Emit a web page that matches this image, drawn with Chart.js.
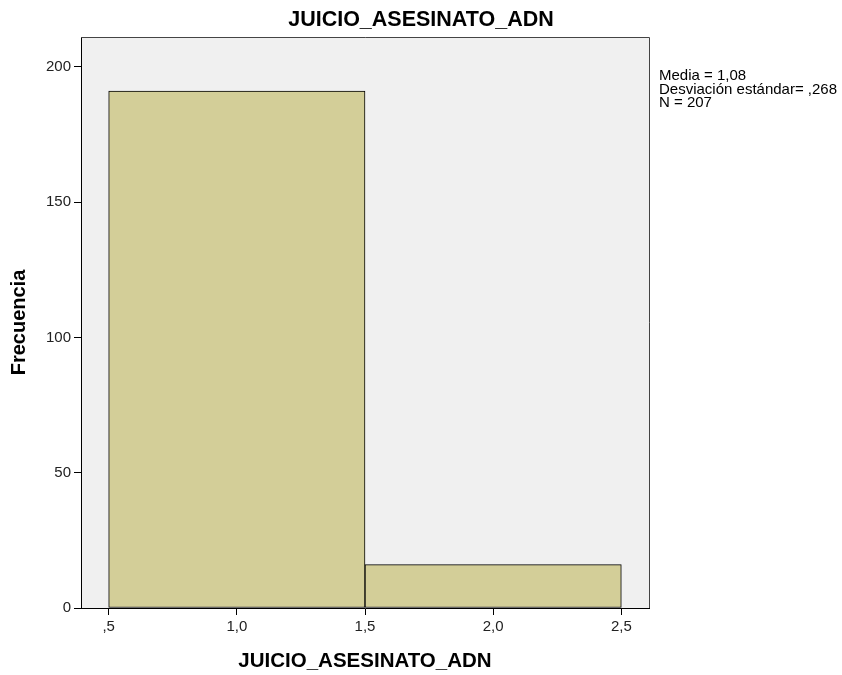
<!DOCTYPE html>
<html>
<head>
<meta charset="utf-8">
<script src="https://cdn.jsdelivr.net/npm/chart.js@4.4.1/dist/chart.umd.min.js"></script>
<style>
  html, body { margin: 0; padding: 0; background: #fff; }
  #wrap { width: 842px; height: 675px; }
</style>
</head>
<body>
<div id="wrap"><canvas id="histChart"></canvas></div>
<script>
// histogram bins (centre of each bin) and counts
const binCenters = [1, 2];
const counts = [191, 16];

// x axis tick values and their SPSS-style labels
const xTickValues = [0.5, 1.0, 1.5, 2.0, 2.5];
const xTickLabels = [",5", "1,0", "1,5", "2,0", "2,5"];
const yTickValues = [0, 50, 100, 150, 200];

const titleText = "JUICIO_ASESINATO_ADN";
const statLines = ["Media = 1,08", "Desviación estándar= ,268", "N = 207"];

const FONT = "'Liberation Sans', Arial, sans-serif";
const X_MIN = 0.392, X_MAX = 2.608, Y_MAX = 211;

// plot background + frame + title + stats box
const spssDecor = {
  id: "spssDecor",
  beforeDraw(chart) {
    const { ctx, chartArea: a } = chart;
    ctx.save();
    ctx.fillStyle = "#fff";
    ctx.fillRect(0, 0, chart.width, chart.height);
    ctx.fillStyle = "#f0f0f0";
    ctx.fillRect(a.left, a.top, a.right - a.left, a.bottom - a.top);
    ctx.restore();
  },
  afterDraw(chart) {
    const { ctx, chartArea: a } = chart;
    ctx.save();
    ctx.strokeStyle = "#444";
    ctx.lineWidth = 1;
    ctx.beginPath();
    ctx.moveTo(a.left, a.top + 0.5);
    ctx.lineTo(a.right + 0.5, a.top + 0.5);
    ctx.lineTo(a.right + 0.5, a.bottom);
    ctx.stroke();

    ctx.fillStyle = "#000";
    ctx.textAlign = "center";
    ctx.textBaseline = "middle";
    ctx.font = "bold 21.5px " + FONT;
    ctx.fillText(titleText, chart.width / 2, 20);

    ctx.font = "15px " + FONT;
    ctx.textAlign = "left";
    statLines.forEach((s, i) => ctx.fillText(s, a.right + 10, 76 + i * 13.5));
    ctx.restore();
  }
};

let histChart = document.getElementById("histChart").getContext("2d");
let myHistChart = new Chart(histChart, {
  type: "bar",
  data: {
    datasets: [
      {
        label: titleText,
        data: binCenters.map((x, i) => ({ x: x, y: counts[i] })),
        xAxisID: "xBin",
        backgroundColor: "rgb(211, 206, 152)",
        borderColor: "#000",
        borderWidth: 1,
        borderSkipped: false,
        barPercentage: 1,
        categoryPercentage: 1
      }
    ]
  },
  options: {
    responsive: true,
    maintainAspectRatio: false,
    animation: false,
    layout: { padding: { top: 37, right: 193, left: 0, bottom: 0 } },
    plugins: {
      legend: { display: false },
      tooltip: { enabled: false }
    },
    scales: {
      // hidden axis used only to size the bars (one bin = one unit)
      xBin: {
        type: "linear",
        display: false,
        offset: false,
        grid: { offset: false },
        min: X_MIN,
        max: X_MAX,
        afterBuildTicks: axis => { axis.ticks = binCenters.map(v => ({ value: v })); }
      },
      x: {
        type: "linear",
        position: "bottom",
        offset: false,
        min: X_MIN,
        max: X_MAX,
        afterBuildTicks: axis => { axis.ticks = xTickValues.map(v => ({ value: v })); },
        afterFit: scale => { scale.height = 67; },
        grid: { offset: false, drawOnChartArea: false, drawTicks: true, tickLength: 7, color: "#000" },
        border: { display: true, color: "#000", width: 1 },
        ticks: {
          color: "#222",
          font: { family: FONT, size: 15 },
          padding: 3,
          maxRotation: 0,
          autoSkip: false,
          callback: (v) => {
            const i = xTickValues.indexOf(v);
            return i >= 0 ? xTickLabels[i] : "";
          }
        },
        title: {
          display: true,
          text: titleText,
          color: "#000",
          font: { family: FONT, size: 20.5, weight: "bold" },
          padding: { top: 0, bottom: 1 }
        }
      },
      y: {
        min: 0,
        max: Y_MAX,
        afterBuildTicks: axis => { axis.ticks = yTickValues.map(v => ({ value: v })); },
        afterFit: scale => { scale.width = 81; },
        grid: { drawOnChartArea: false, drawTicks: true, tickLength: 7, color: "#000" },
        border: { display: true, color: "#000", width: 1 },
        ticks: {
          color: "#222",
          font: { family: FONT, size: 15 },
          padding: 3,
          autoSkip: false
        },
        title: {
          display: true,
          text: "Frecuencia",
          color: "#000",
          font: { family: FONT, size: 20, weight: "bold" },
          padding: { top: 7, bottom: 0 }
        }
      }
    }
  },
  plugins: [spssDecor]
});
</script>
</body>
</html>
